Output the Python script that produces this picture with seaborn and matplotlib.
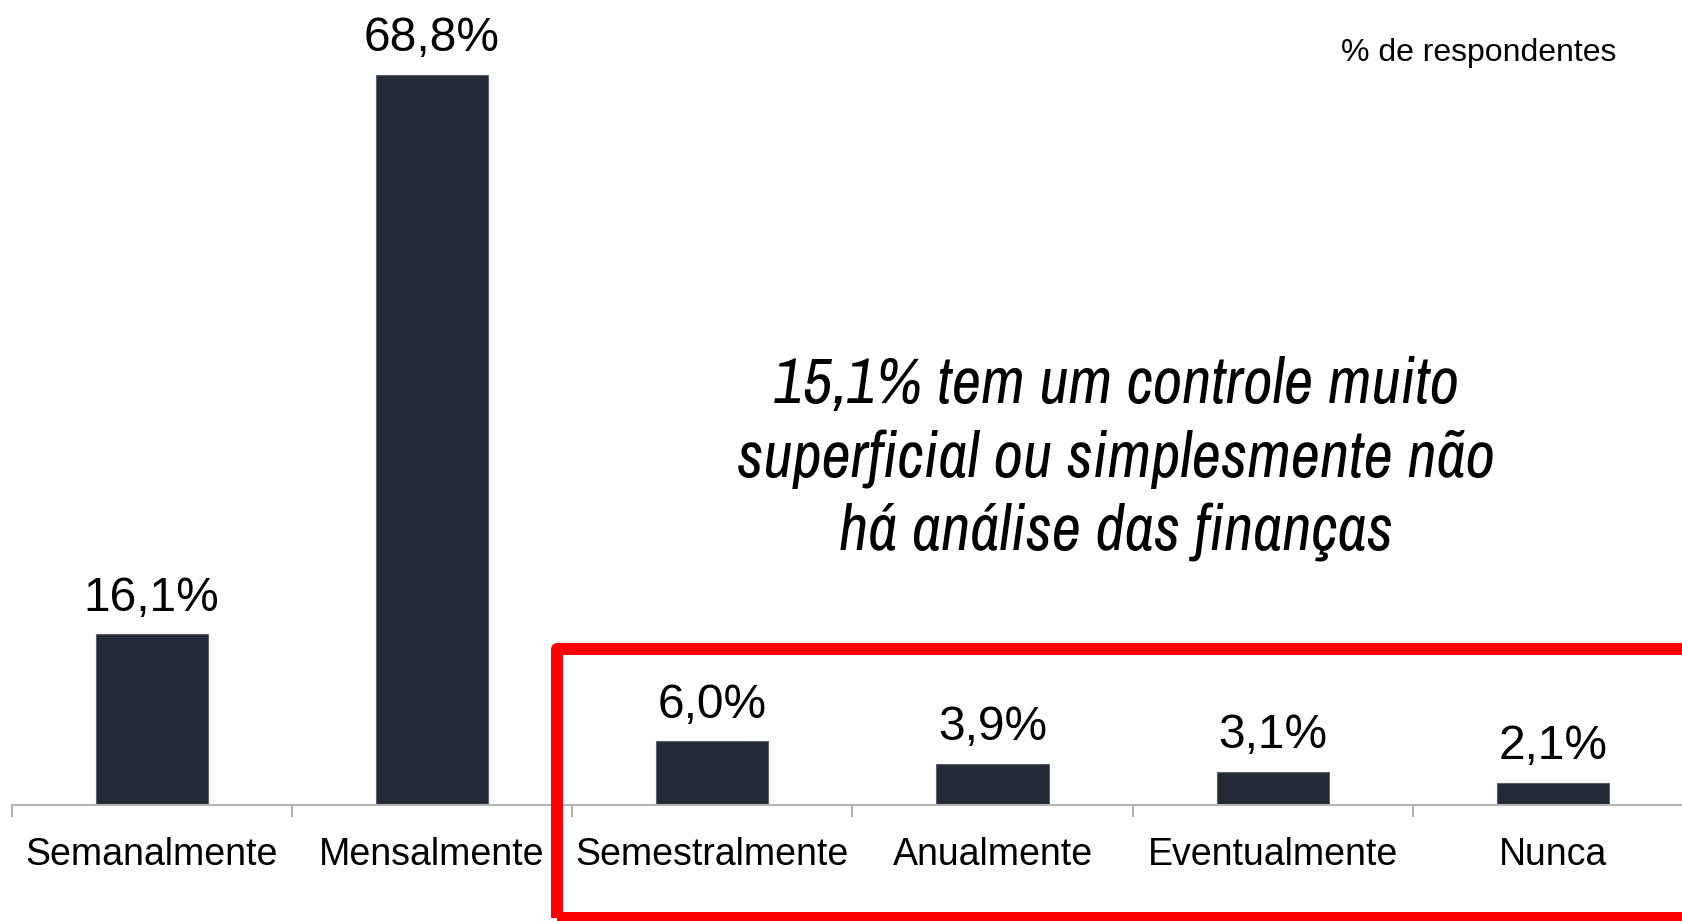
import matplotlib
matplotlib.use("Agg")
import matplotlib.pyplot as plt
import matplotlib.patches as mpatches
from matplotlib.ticker import FixedLocator
import seaborn as sns
import pandas as pd

categorias = ["Semanalmente", "Mensalmente", "Semestralmente", "Anualmente", "Eventualmente", "Nunca"]
valores = [16.1, 68.8, 6.0, 3.9, 3.1, 2.1]
rotulos = ["16,1%", "68,8%", "6,0%", "3,9%", "3,1%", "2,1%"]
nota = "15,1% tem um controle muito\nsuperficial ou simplesmente não\nhá análise das finanças"

sns.set_style("white")
plt.rcParams['font.family'] = ['Liberation Sans', 'DejaVu Sans']
plt.rcParams['text.color'] = 'black'

W, H = 1683, 921
fig = plt.figure(figsize=(W / 100, H / 100), dpi=100)
ax = fig.add_axes([11.5 / W, 116 / H, 1681.8 / W, 795.8 / H])

df = pd.DataFrame({'categoria': categorias, 'valor': valores})
sns.barplot(data=df, x='categoria', y='valor', color='#252b36', width=0.4,
            saturation=1, linewidth=0.8, edgecolor='#5a606a', ax=ax)

ax.set_xlim(-0.5, len(categorias) - 0.5)
ax.set_ylim(0, 75)
ax.set_xlabel('')
ax.set_ylabel('')
ax.set_yticks([])
for s in ['top', 'right', 'left']:
    ax.spines[s].set_visible(False)
ax.spines['bottom'].set_color('#b5b5b5')
ax.spines['bottom'].set_linewidth(1.5)

# ticks sit between categories
ax.xaxis.set_minor_locator(FixedLocator([i - 0.5 for i in range(len(categorias) + 1)]))
ax.tick_params(axis='x', which='major', length=0, labelsize=27, pad=23, colors='black')
ax.tick_params(axis='x', which='minor', length=8.6, width=1.2, color='#a0a0a0', bottom=True)

for i, (v, r) in enumerate(zip(valores, rotulos)):
    ax.annotate(r, (i, v), xytext=(0, 17), textcoords='offset points',
                ha='center', va='baseline', fontsize=34.5, color='black')

fig.text(1479 / W, 1 - 53 / H, "% de respondentes", ha='center', va='center', fontsize=23)

fig.text(1116 / W, 1 - 459 / H, nota, ha='center', va='center', fontsize=46,
         style='italic', linespacing=1.31,
         family=['Liberation Sans Narrow', 'Archivo Narrow', 'DejaVu Sans'])

# red highlight box (runs off the right edge)
caixa = mpatches.Rectangle((557, H - 918), 1300, 918 - 649, fill=False,
                           edgecolor='#ff0000', linewidth=8.6, joinstyle='round',
                           transform=None, clip_on=False)
fig.patches.append(caixa)

fig.savefig('out.png', dpi=100)
